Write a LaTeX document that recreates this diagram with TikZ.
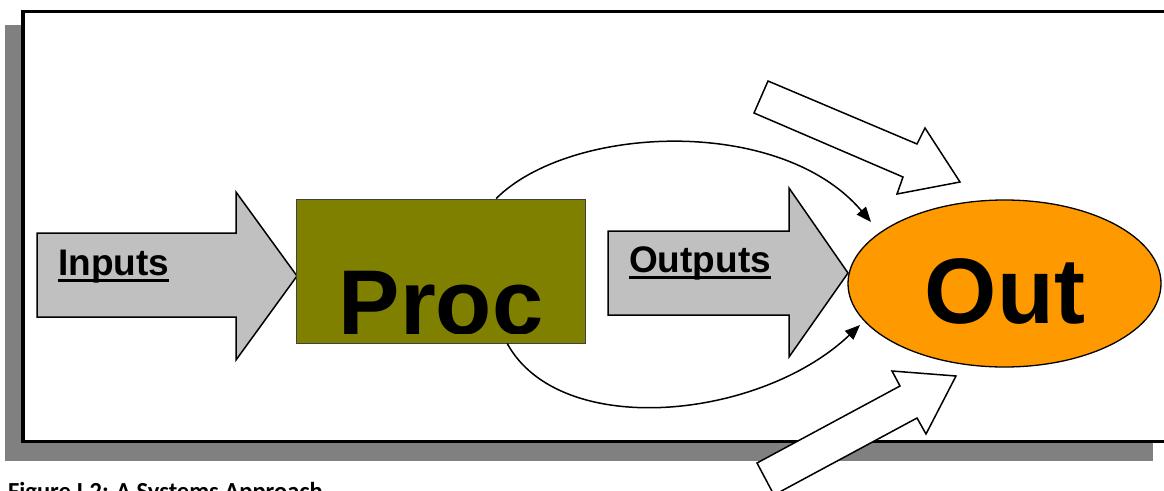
\documentclass[tikz,border=0pt]{standalone}
\usepackage{fontspec}
\setmainfont{Liberation Sans}
\newfontfamily\capfont{Carlito}
\usetikzlibrary{shapes.geometric,arrows.meta,calc}
\definecolor{olivebox}{HTML}{808000}
\definecolor{outorange}{HTML}{FF9900}
\definecolor{arrowgray}{HTML}{C0C0C0}
\definecolor{shadowgray}{HTML}{808080}
\begin{document}
\begin{tikzpicture}[x=1pt,y=-1pt,
  grayarrow/.style={draw=black,line width=1.5pt,fill=arrowgray,line join=miter},
  whitearrow/.style={draw=black,line width=1.5pt,fill=white,line join=miter},
  procbox/.style={rectangle,draw=black!75,line width=1pt,fill=olivebox,minimum width=289pt,minimum height=144pt,inner sep=0pt},
  outell/.style={ellipse,draw=black,line width=1.3pt,fill=outorange,minimum width=313pt,minimum height=167pt,inner sep=0pt},
  lbl/.style={inner sep=0pt,font=\fontsize{37}{37}\selectfont\bfseries},
  biglbl/.style={inner sep=0pt,font=\fontsize{93}{93}\selectfont\bfseries},
  ulrule/.style={line width=3pt},
  curve/.style={line width=1.5pt,-{Triangle[length=15pt,width=12pt]}}]
\useasboundingbox (0,0) rectangle (1164,490);
% frame and shadow
\fill[shadowgray] (5,25) rectangle (1153,461);
\draw[line width=3.5pt,fill=white] (23,11.5) rectangle (1172,441.5);
% gray arrows
\draw[grayarrow] (37,233) -- (236,233) -- (236,192) -- (297,276) -- (236,360) -- (236,317) -- (37,317) -- cycle;
\draw[grayarrow] (608,231) -- (789,231) -- (789,188) -- (848,273) -- (789,357) -- (789,315) -- (608,315) -- cycle;
% process box
\node[procbox] (proc) at (440.5,271) {};
\begin{scope}
  \clip (296,199) rectangle (585,333);
  \node[biglbl,font=\fontsize{92}{92}\selectfont\bfseries,anchor=base] (proclbl) at (441,334) {Proc};
\end{scope}
% out ellipse
\node[outell] (out) at (1004.5,283.5) {};
\node[biglbl,anchor=base] (outlbl) at (1005,323) {Out};
% curved connectors
\coordinate (t1) at (871,222);
\coordinate (t2) at (860,325);
\draw[curve] ($(proc.north west)!0.692!(proc.north east)$) .. controls (570,125) and (780,115) .. (t1);
\draw[curve] ($(proc.south west)!0.73!(proc.south east)$) .. controls (560,440) and (760,420) .. (t2);
% white arrows
\draw[whitearrow] (768,81) -- (917,144) -- (925,128) -- (960,182) -- (897,194) -- (903,177) -- (754,113) -- cycle;
\draw[whitearrow] (774,495) -- (917,418) -- (926,434) -- (956,376) -- (892,371) -- (900,386) -- (757,463) -- cycle;
% labels
\node[lbl,anchor=base west] (inlbl) at (58,275) {Inputs};
\draw[ulrule] ($(inlbl.base west)+(0,5)$) -- ($(inlbl.base east)+(0,5)$);
\node[lbl,anchor=base west] (outplbl) at (629,272) {Outputs};
\draw[ulrule] ($(outplbl.base west)+(0,5.5)$) -- ($(outplbl.base east)+(0,5.5)$);
% caption
\node[inner sep=0pt,anchor=base west,font=\capfont\bfseries\fontsize{24.5}{24.5}\selectfont] (cap) at (8,499) {Figure I.2: A Systems Approach};
\end{tikzpicture}
\end{document}
